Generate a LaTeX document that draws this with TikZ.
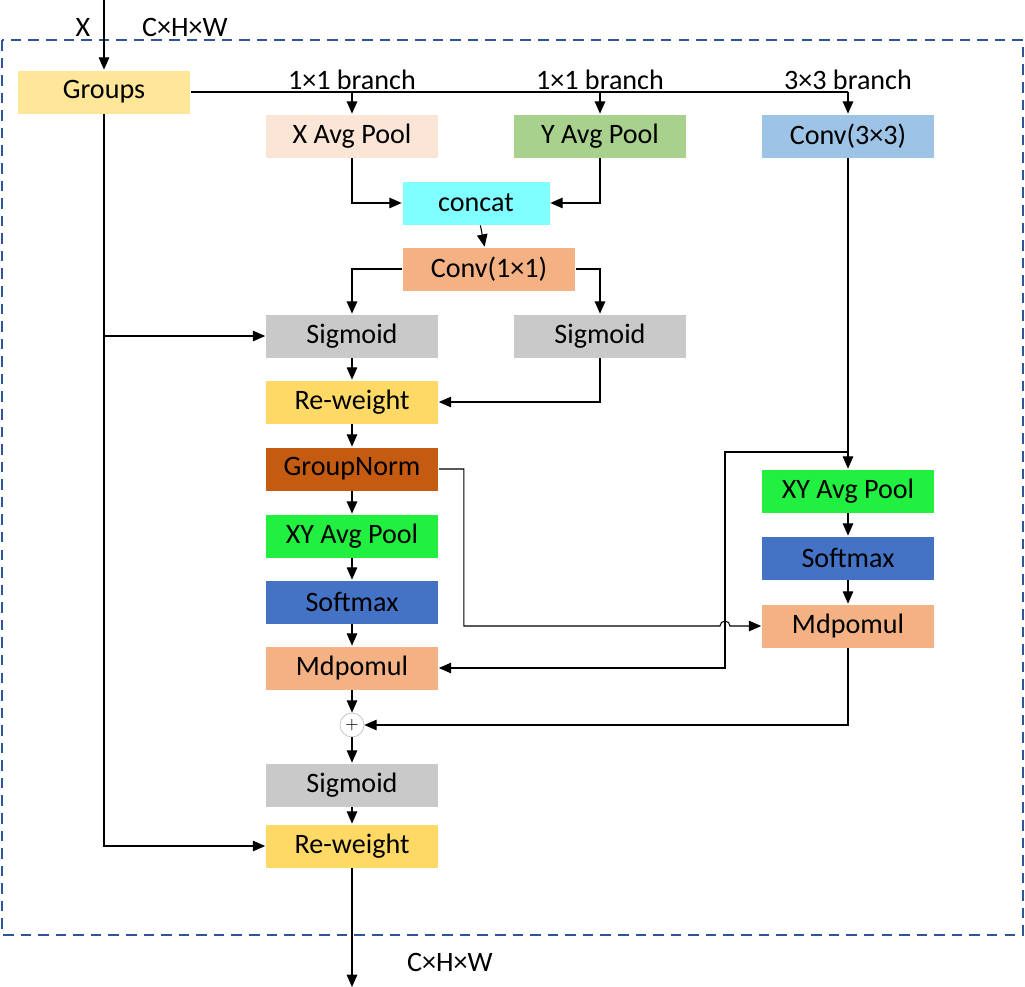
\documentclass[tikz,border=0pt]{standalone}
\usepackage{fontspec}
\setmainfont{Carlito}
\usetikzlibrary{arrows.meta}
\usetikzlibrary{positioning}
\usetikzlibrary{calc}

\definecolor{cgroups}{RGB}{255,230,153}
\definecolor{cxpool}{RGB}{251,229,214}
\definecolor{cypool}{RGB}{169,209,142}
\definecolor{cconvt}{RGB}{157,195,230}
\definecolor{cconcat}{RGB}{127,255,255}
\definecolor{cconvo}{RGB}{244,177,131}
\definecolor{csig}{RGB}{201,201,201}
\definecolor{crew}{RGB}{255,217,102}
\definecolor{cgn}{RGB}{197,90,17}
\definecolor{cxy}{RGB}{33,240,65}
\definecolor{csoft}{RGB}{68,114,196}
\definecolor{cframe}{RGB}{47,85,151}

\begin{document}
\begin{tikzpicture}[
                x=0.02cm, y=-0.02cm,
                thick,
                >={Triangle[length=7pt,width=6pt]},
                box/.style={
                        draw=white,
                        thin,
                        minimum width=3.46cm,
                        minimum height=0.88cm,
                        inner sep=0pt,
                        font=\fontsize{16}{19}\selectfont
                    },
                textnode/.style={
                        font=\fontsize{16}{19}\selectfont
                    },
                line/.style={draw, semithick, ->}
            ]
            \useasboundingbox (0,0) rectangle (1025,987);

            % Frame
            \draw[cframe, semithick, dashed, dash pattern=on 6pt off 4pt] (2,40) rectangle (1023,935);

            % Nodes
            \node[box, fill=cgroups] (groups) at (104,92) {Groups};
            \node[box, fill=cxpool] (xpool) at (352,136) {X Avg Pool};
            \node[box, fill=cypool] (ypool) at (600,136) {Y Avg Pool};
            \node[box, fill=cconvt] (convt) at (848,136) {Conv(3×3)};
            \node[box, fill=cconcat, minimum width=2.96cm] (concat) at (476,203) {concat};
            \node[box, fill=cconvo] (convo) at (489,269) {Conv(1×1)};
            \node[box, fill=csig] (sigl) at (352,336) {Sigmoid};
            \node[box, fill=csig] (sigr) at (600,336) {Sigmoid};
            \node[box, fill=crew] (rewa) at (352,402) {Re-weight};
            \node[box, fill=cgn] (gnorm) at (352,469) {GroupNorm};
            \node[box, fill=cxy] (xyl) at (352,536) {XY Avg Pool};
            \node[box, fill=csoft] (softl) at (352,602) {Softmax};
            \node[box, fill=cconvo] (mdl) at (352,668) {Mdpomul};
            \node[draw=black!25, thin, circle, minimum size=0.48cm, inner sep=0pt] (plus) at (352,725) {$+$};
            \node[box, fill=csig] (sigb) at (352,785) {Sigmoid};
            \node[box, fill=crew] (rewb) at (352,846) {Re-weight};
            \node[box, fill=cxy] (xyr) at (848,491) {XY Avg Pool};
            \node[box, fill=csoft] (softr) at (848,558) {Softmax};
            \node[box, fill=cconvo] (mdr) at (848,626) {Mdpomul};

            % Labels
            \node[textnode] (xlab) at (83,27) {X};
            \node[textnode] (inlab) at (185,27) {C×H×W};
            \node[textnode] (brone) at (352,80) {1×1 branch};
            \node[textnode] (brtwo) at (600,80) {1×1 branch};
            \node[textnode] (brthree) at (848,80) {3×3 branch};
            \node[textnode] (outlab) at (450,962) {C×H×W};

            % Helper coordinates
            \coordinate (in) at (104,0);
            \coordinate (out) at (352,987);
            \coordinate (top) at (848,92);
            \coordinate (tap) at (848,452);
            \coordinate (jump) at (725,626);

            % Connectors
            \draw[line] (in) -- (groups);
            \draw[semithick] (groups.east) -- (top);
            \draw[line] (xpool.north |- top) -- (xpool);
            \draw[line] (ypool.north |- top) -- (ypool);
            \draw[line] (top) -- (convt);
            \draw[line] (groups) |- (rewb);
            \draw[line] (groups.south |- sigl) -- (sigl);
            \draw[line] (xpool) |- (concat);
            \draw[line] (ypool) |- (concat);
            \draw[line] (concat) -- (convo);
            \draw[line] (convo) -| (sigl);
            \draw[line] (convo) -| (sigr);
            \draw[line] (sigr) |- (rewa);
            \draw[line] (sigl) -- (rewa);
            \draw[line] (rewa) -- (gnorm);
            \draw[line] (gnorm) -- (xyl);
            \draw[line] (xyl) -- (softl);
            \draw[line] (softl) -- (mdl);
            \draw[line] (mdl) -- (plus);
            \draw[line] (plus) -- (sigb);
            \draw[line] (sigb) -- (rewb);
            \draw[line] (rewb) -- (out);
            \draw[line] (convt) -- (xyr);
            \draw[line] (xyr) -- (softr);
            \draw[line] (softr) -- (mdr);
            \draw[line] (tap) -| (jump) |- (mdl);
            \draw[line] (gnorm.east) -- ++(25,0) |- ([xshift=-0.1cm]jump)
                arc[start angle=180, end angle=0, radius=0.1cm] -- (mdr);
            \draw[line] (mdr) |- (plus);

        \end{tikzpicture}
\end{document}
